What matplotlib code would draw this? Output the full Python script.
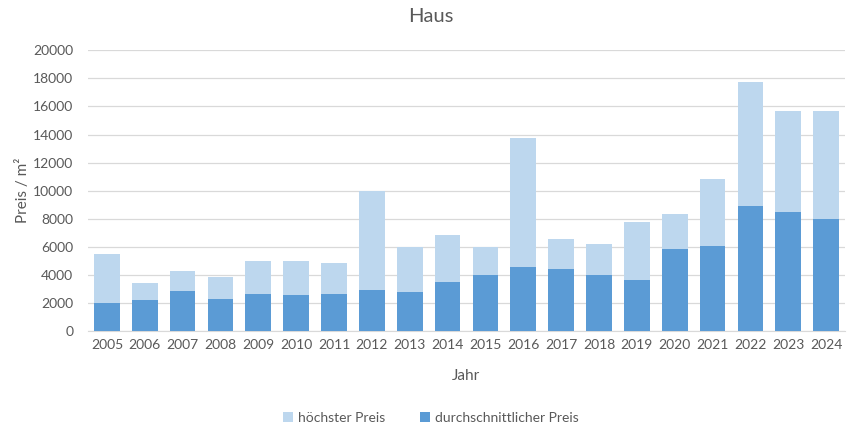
import matplotlib.pyplot as plt
import numpy as np

plt.rcParams['font.family'] = ['Lato', 'DejaVu Sans']

# Daten (Preis pro m²)
jahre = ['2005', '2006', '2007', '2008', '2009', '2010', '2011', '2012', '2013', '2014',
         '2015', '2016', '2017', '2018', '2019', '2020', '2021', '2022', '2023', '2024']
hoechster_preis = [5500, 3450, 4300, 3850, 5000, 5000, 4850, 10000, 6000, 6850,
                   5950, 13750, 6550, 6200, 7770, 8340, 10830, 17750, 15680, 15680]
durchschnitt_preis = [2000, 2230, 2850, 2300, 2650, 2570, 2650, 2920, 2800, 3500,
                      4000, 4560, 4420, 4000, 3640, 5850, 6060, 8900, 8480, 8000]

hell = '#BDD7EE'
dunkel = '#5B9BD5'
grau = '#595959'

fig = plt.figure(figsize=(8.62, 4.36), dpi=100)
ax = fig.add_axes([88 / 862, 1 - 331 / 436, (845 - 88) / 862, (331 - 50.3) / 436])

x = np.arange(len(jahre))
ax.bar(x, hoechster_preis, width=0.68, color=hell, label='höchster Preis', zorder=2)
ax.bar(x, durchschnitt_preis, width=0.68, color=dunkel, label='durchschnittlicher Preis', zorder=3)

ax.set_xlim(-0.5, len(jahre) - 0.5)
ax.set_ylim(0, 20000)
ax.set_yticks(range(0, 20001, 2000))
ax.set_xticks(x)
ax.set_xticklabels(jahre)
ax.tick_params(axis='both', length=0, colors=grau, labelsize=10)
ax.tick_params(axis='y', pad=10.5)
ax.tick_params(axis='x', pad=6)
ax.grid(axis='y', color='#D9D9D9', linewidth=0.9, zorder=0)

for s in ['top', 'right', 'left']:
    ax.spines[s].set_visible(False)
ax.spines['bottom'].set_color('#D9D9D9')

ax.set_xlabel('Jahr', color=grau, fontsize=11, labelpad=13)
ax.set_ylabel('Preis / m²', color=grau, fontsize=11, labelpad=2)
fig.text(0.5, 1 - 17 / 436, 'Haus', ha='center', va='center', fontsize=14.5, color=grau)

fig.legend(loc='center', bbox_to_anchor=(0.5, 1 - 418 / 436), ncol=2, frameon=False,
           fontsize=10, labelcolor=grau, handlelength=0.7, handleheight=0.7,
           handletextpad=0.4, columnspacing=2.5)

fig.savefig('out.png', dpi=100)
